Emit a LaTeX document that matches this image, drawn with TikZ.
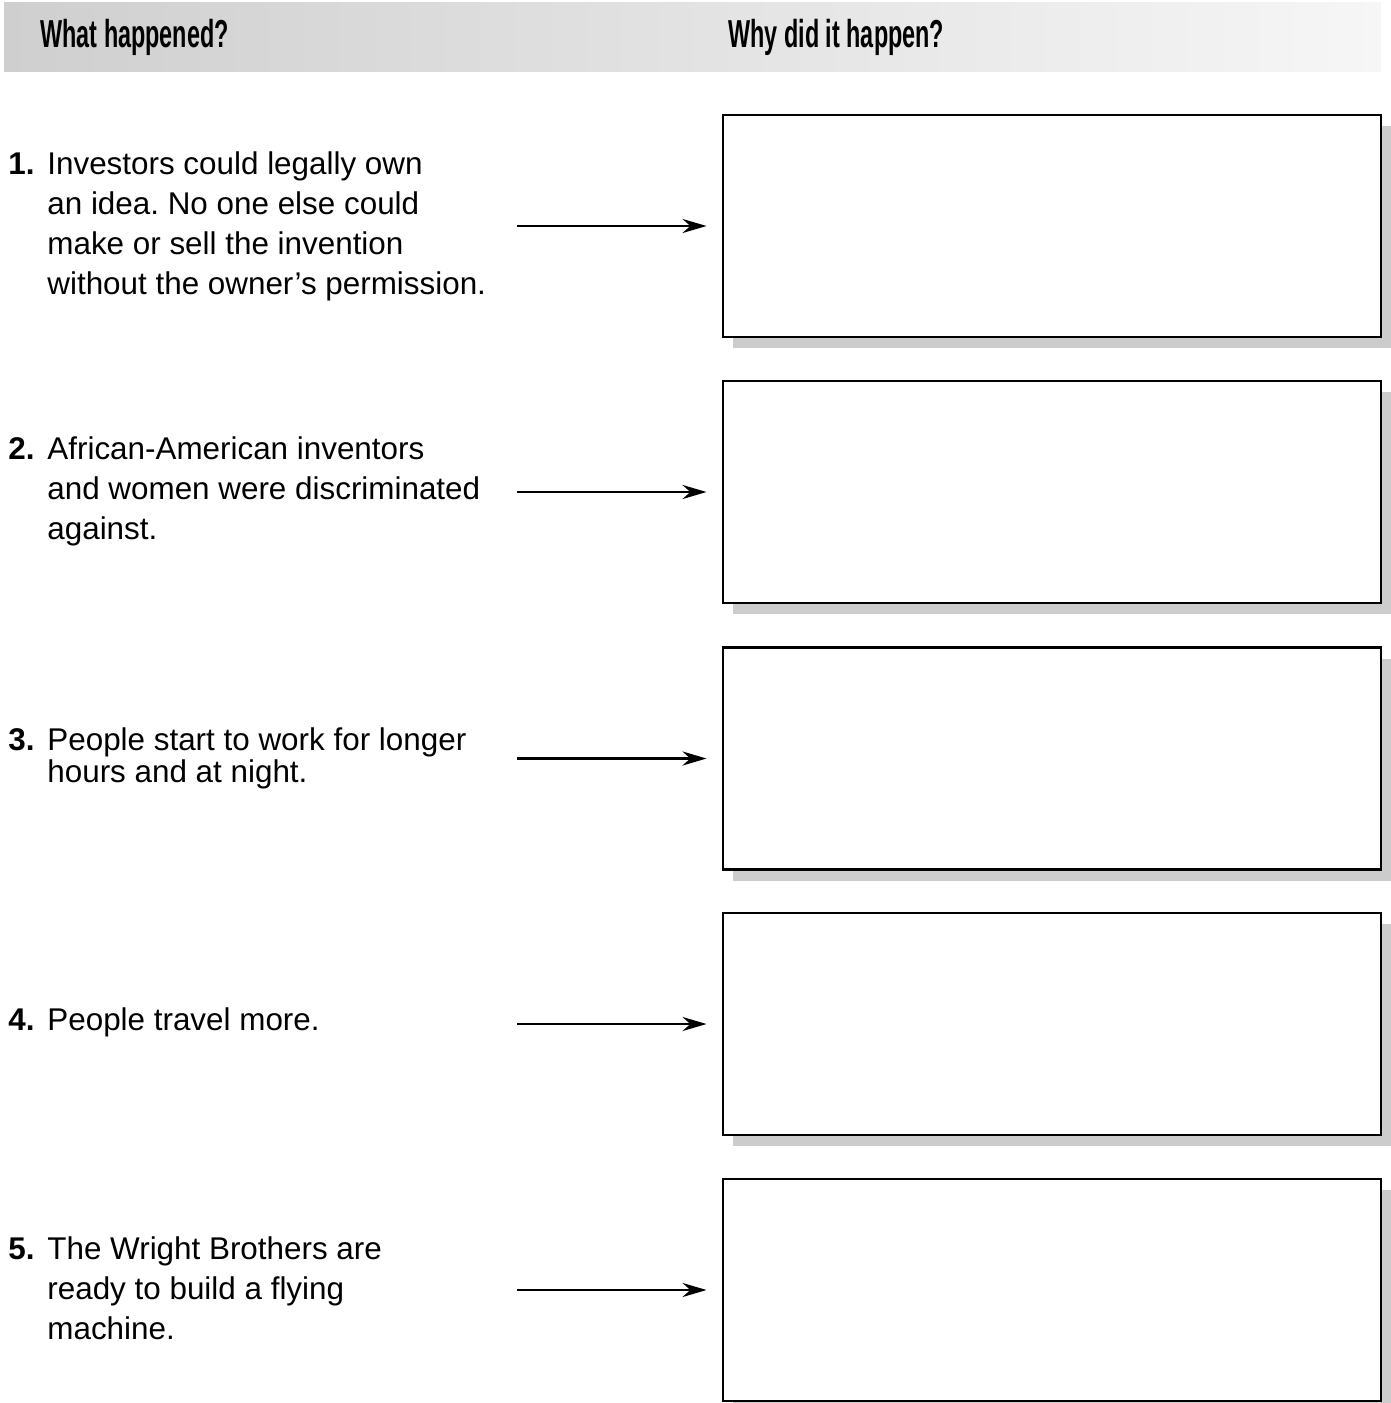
\documentclass[tikz,border=0pt]{standalone}
\usepackage{fontspec}
\setmainfont{Liberation Sans}
\newfontfamily\hdfont{Liberation Sans}[FakeStretch=0.6]
\usetikzlibrary{arrows.meta,shadows}
\definecolor{hdleft}{RGB}{207,207,207}
\definecolor{hdright}{RGB}{246,246,246}
\definecolor{shadowgray}{RGB}{204,204,204}
\tikzset{
  hdtext/.style={anchor=base west, inner sep=0pt, font=\hdfont\bfseries\fontsize{19.5pt}{20pt}\selectfont},
  txt/.style={anchor=base west, inner sep=0pt, font=\frenchspacing\fontsize{15.7pt}{20pt}\selectfont},
  num/.style={anchor=base west, inner sep=0pt, font=\bfseries\fontsize{15.7pt}{20pt}\selectfont},
  answerbox/.style={draw=black, line width=1.45pt, fill=white, minimum width=329pt, minimum height=111pt, inner sep=0pt,
    drop shadow={shadow xshift=5pt, shadow yshift=-5.5pt, fill=shadowgray, opacity=1}},
  arr/.style={line width=1.4pt, -{Stealth[length=12pt,width=7pt]}, shorten >=7.5pt}
}
\begin{document}
\begin{tikzpicture}[x=0.5pt,y=-0.5pt]
\useasboundingbox (0,0) rectangle (1391,1403);
% header band
\shade[left color=hdleft, right color=hdright] (4,2) rectangle (1381,71);
\node[hdtext] (h1) at (40,47) {What happened?};
\node[hdtext] (h2) at (728,47) {Why did it happen?};

% boxes
\node[answerbox] (b1) at (1052,226) {};
\node[answerbox] (b2) at (1052,492) {};
\node[answerbox] (b3) at (1052,758.5) {};
\node[answerbox] (b4) at (1052,1024) {};
\node[answerbox] (b5) at (1052,1290) {};

% item 1
\node[num] (n1) at (8,174) {1.};
\node[txt] (t1a) at (47,174) {Investors could legally own};
\node[txt] (t1b) at (47,214) {an idea. No one else could};
\node[txt] (t1c) at (47,254) {make or sell the invention};
\node[txt] (t1d) at (47,294) {without the owner’s permission.};
% item 2
\node[num] (n2) at (8,459) {2.};
\node[txt] (t2a) at (47,459) {African-American inventors};
\node[txt] (t2b) at (47,499) {and women were discriminated};
\node[txt] (t2c) at (47,539) {against.};
% item 3
\node[num] (n3) at (8,750) {3.};
\node[txt] (t3a) at (47,750) {People start to work for longer};
\node[txt] (t3b) at (47,782) {hours and at night.};
% item 4
\node[num] (n4) at (8,1030) {4.};
\node[txt] (t4a) at (47,1030) {People travel more.};
% item 5
\node[num] (n5) at (8,1259) {5.};
\node[txt] (t5a) at (47,1259) {The Wright Brothers are};
\node[txt] (t5b) at (47,1299) {ready to build a flying};
\node[txt] (t5c) at (47,1339) {machine.};

% arrows
\coordinate (a1) at (517,226);
\coordinate (a2) at (517,492);
\coordinate (a3) at (517,758.5);
\coordinate (a4) at (517,1024);
\coordinate (a5) at (517,1290);
\draw[arr] (a1) -- (b1.west);
\draw[arr] (a2) -- (b2.west);
\draw[arr] (a3) -- (b3.west);
\draw[arr] (a4) -- (b4.west);
\draw[arr] (a5) -- (b5.west);
\end{tikzpicture}
\end{document}
